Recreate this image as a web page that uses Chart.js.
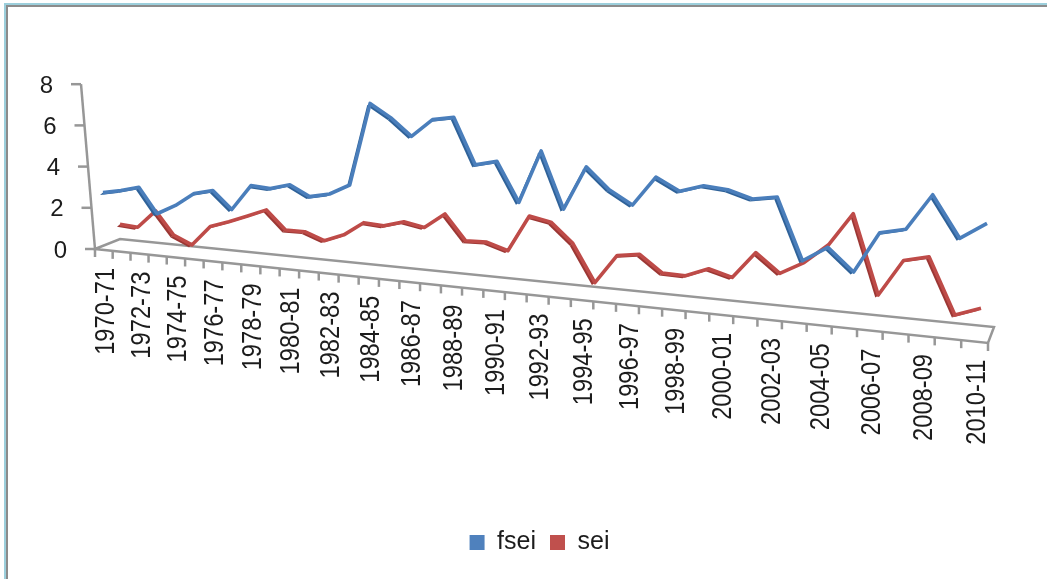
<!DOCTYPE html>
<html><head><meta charset="utf-8">
<style>html,body{margin:0;padding:0;background:#fff}canvas{display:block}</style>
<script src="https://cdn.jsdelivr.net/npm/chart.js@4"></script>
</head><body><canvas id="c" width="1047" height="579"></canvas>
<script>
const categories = ["1970-71","1971-72","1972-73","1973-74","1974-75","1975-76","1976-77","1977-78","1978-79","1979-80","1980-81","1981-82","1982-83","1983-84","1984-85","1985-86","1986-87","1987-88","1988-89","1989-90","1990-91","1991-92","1992-93","1993-94","1994-95","1995-96","1996-97","1997-98","1998-99","1999-00","2000-01","2001-02","2002-03","2003-04","2004-05","2005-06","2006-07","2007-08","2008-09","2009-10","2010-11"];
const fsei = [2.69,2.87,3.10,1.90,2.38,3.03,3.25,2.43,3.64,3.57,3.83,3.35,3.55,4.04,7.84,7.25,6.46,7.28,7.44,5.39,5.61,3.88,6.21,3.74,5.65,4.74,4.16,5.43,4.90,5.21,5.12,4.81,4.97,2.43,3.07,2.16,3.84,4.07,5.53,3.88,4.56];
const sei = [0.87,0.81,1.72,0.60,0.20,1.20,1.53,1.90,2.28,1.39,1.40,1.06,1.43,2.10,2.04,2.32,2.14,2.86,1.70,1.73,1.43,3.11,2.92,2.05,0.37,1.69,1.84,1.10,1.08,1.49,1.21,2.39,1.59,2.15,3.01,4.43,1.07,2.63,2.88,0.55,0.94];
const valueTicks = [0,2,4,6,8];

// Oblique (3-D perspective) view of the flat chart
const views = [
  {x0:103,x1:987,y0:247.5,y1:339,c:-0.196,u:20.4},
  {x0:120,x1:981,y0:241.5,y1:331,c:-0.18,u:19.8}
];
const frontEdge = {x0:95,x1:988,y0:249,y1:343,c:-0.192,u:20.6};
function project(view,t,v){
  const w = 1+view.c*t, k = 1+view.c;
  return {x:(view.x0+(view.x1*k-view.x0)*t)/w, y:(view.y0+(view.y1*k-view.y0)*t-view.u*v)/w};
}
const GRAY = '#979797', TEXT = '#1c1c1c';
const ribbon = [{dx:3,dy:-2.4,edge:'#2f6299'},{dx:3,dy:-2.4,edge:'#9c3734'}];

const oblique = {
  id:'oblique',
  afterDatasetsUpdate(chart){
    const xs = chart.scales.x, ys = chart.scales.y;
    chart.getSortedVisibleDatasetMetas().forEach(meta=>{
      const view = views[meta.index];
      meta.data.forEach((pt,i)=>{
        const t = (xs.getPixelForValue(i)-xs.left)/xs.width;
        const v = ys.getValueForPixel(ys.getPixelForValue(chart.data.datasets[meta.index].data[i]));
        const p = project(view,t,v);
        pt.x = p.x; pt.y = p.y;
      });
    });
  },
  beforeDraw(chart){
    const ctx = chart.ctx;
    ctx.save();
    ctx.fillStyle='#fff'; ctx.fillRect(0,0,1047,579);
    ctx.fillStyle='#9ccfdc'; ctx.fillRect(4,3,1043,2); ctx.fillRect(4,3,2,576);
    ctx.fillStyle='#8c8c8c'; ctx.fillRect(6,5,1041,2); ctx.fillRect(6,5,2,574);
    // floor
    ctx.strokeStyle=GRAY; ctx.lineWidth=2.5;
    ctx.beginPath();
    ctx.moveTo(95,249); ctx.lineTo(120,239); ctx.lineTo(994,327); ctx.lineTo(988,343); ctx.closePath();
    ctx.stroke();
    // value axis
    const ys = chart.scales.y;
    const axisX = v => 95-(ys.getPixelForValue(0)-ys.getPixelForValue(v))*(14/(ys.getPixelForValue(0)-ys.getPixelForValue(8)));
    const axisY = v => 249-v*20.6;
    ctx.beginPath(); ctx.moveTo(axisX(0),axisY(0)); ctx.lineTo(axisX(8),axisY(8)); ctx.stroke();
    ctx.fillStyle=TEXT; ctx.font='24px "Liberation Sans"'; ctx.textAlign='right'; ctx.textBaseline='middle';
    valueTicks.forEach(v=>{
      const x=axisX(v), y=axisY(v);
      ctx.beginPath(); ctx.moveTo(x-10,y); ctx.lineTo(x,y); ctx.stroke();
      ctx.fillText(String(v),x-28,y+2);
    });
    // category axis
    const n = categories.length;
    for(let k=0;k<=n;k++){
      const p = project(frontEdge,k/n,0);
      ctx.beginPath(); ctx.moveTo(p.x,p.y); ctx.lineTo(p.x,p.y+8); ctx.stroke();
    }
    chart.scales.x.getLabels().forEach((lab,k)=>{
      if(k%2) return;
      const p = project(frontEdge,(k+0.5)/n,0);
      ctx.save();
      ctx.translate(p.x+2.5,p.y+18);
      ctx.rotate(-Math.PI/2);
      ctx.scale(1.03,1.2);
      ctx.font='23px "Liberation Sans"';
      ctx.textAlign='right'; ctx.textBaseline='middle';
      ctx.fillText(lab,0,0);
      ctx.restore();
    });
    ctx.restore();
  },
  beforeDatasetDraw(chart,args){
    const ctx = chart.ctx, pts = args.meta.data, r = ribbon[args.index];
    ctx.save();
    ctx.fillStyle = r.edge;
    for(let i=0;i<pts.length-1;i++){
      const a=pts[i], b=pts[i+1];
      ctx.beginPath();
      ctx.moveTo(a.x-r.dx,a.y-r.dy); ctx.lineTo(b.x-r.dx,b.y-r.dy);
      ctx.lineTo(b.x,b.y); ctx.lineTo(a.x,a.y); ctx.closePath(); ctx.fill();
    }
    ctx.restore();
  }
};

new Chart(document.getElementById('c'),{
  type:'line',
  data:{labels:categories,datasets:[
    {label:'fsei',data:fsei,borderColor:'#4a7ebb',backgroundColor:'#4f81bd',borderWidth:3.6,pointRadius:0,tension:0,clip:false,borderJoinStyle:'round'},
    {label:'sei',data:sei,borderColor:'#be4b48',backgroundColor:'#c0504d',borderWidth:3.6,pointRadius:0,tension:0,clip:false,borderJoinStyle:'round'}
  ]},
  options:{
    responsive:false,animation:false,
    layout:{padding:{left:32,right:0,top:10,bottom:14}},
    scales:{
      x:{type:'category',display:false,offset:false},
      y:{type:'linear',display:false,min:0,max:8}
    },
    plugins:{
      legend:{position:'bottom',labels:{boxWidth:15,boxHeight:15,padding:14,color:TEXT,font:{size:25,family:'"Liberation Sans"'},
        generateLabels(chart){
          return Chart.defaults.plugins.legend.labels.generateLabels(chart).map(l=>Object.assign(l,{lineWidth:0}));
        }}},
      tooltip:{enabled:false}
    }
  },
  plugins:[oblique]
});
</script></body></html>
